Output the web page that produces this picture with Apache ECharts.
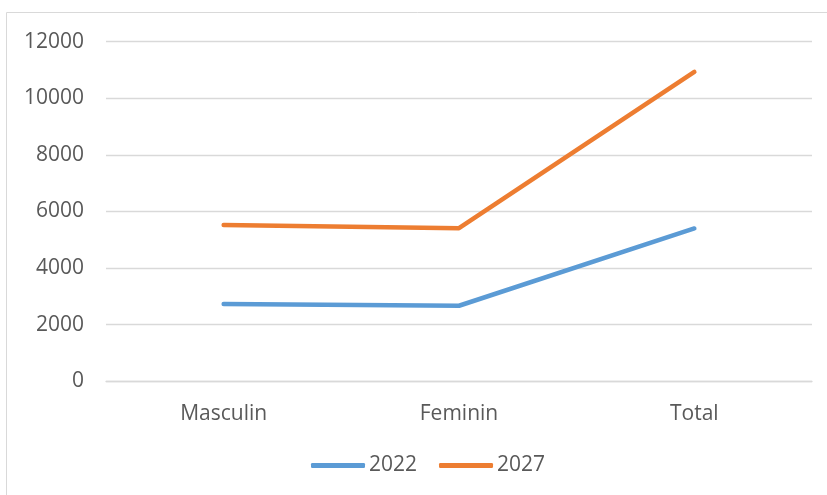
<!DOCTYPE html>
<html>
<head>
<meta charset="utf-8">
<script src="https://cdn.jsdelivr.net/npm/echarts@6/dist/echarts.min.js"></script>
<style>
  html, body { margin: 0; padding: 0; background: #fff; }
  #chart { width: 827px; height: 495px; }
</style>
</head>
<body>
<div id="chart"></div>
<script>
const categories = ['Masculin', 'Feminin', 'Total']
const values2022 = [2730, 2670, 5400]
const values2027 = [5520, 5410, 10930]
const seriesNames = ['2022', '2027']

const TEXT_COLOR = '#595959'
const GRID_COLOR = '#d9d9d9'
const FONT = '"Open Sans", sans-serif'

const chart = echarts.init(document.getElementById('chart'), null, { renderer: 'canvas' })

function lineSeries(name, data, color) {
  return {
    type: 'line',
    name: name,
    data: data,
    showSymbol: false,
    symbol: 'none',
    lineStyle: { color: color, width: 4.5, cap: 'round', join: 'round' },
    itemStyle: { color: color },
  }
}

chart.setOption({
  animation: false,
  textStyle: { fontFamily: FONT },
  graphic: [
    {
      type: 'rect',
      shape: { x: 6.5, y: 12.5, width: 840, height: 500 },
      style: { fill: 'none', stroke: GRID_COLOR, lineWidth: 1 },
      silent: true,
    },
  ],
  grid: { left: 106, right: 15, top: 41.7, bottom: 113.7 },
  legend: {
    left: 311,
    top: 455,
    icon: 'roundRect',
    itemWidth: 54,
    itemHeight: 5,
    itemGap: 22,
    padding: 0,
    textStyle: { color: TEXT_COLOR, fontSize: 21, fontFamily: FONT, padding: [0, 0, 0, -1] },
    data: seriesNames,
  },
  xAxis: {
    type: 'category',
    data: categories,
    boundaryGap: true,
    axisLine: { lineStyle: { color: GRID_COLOR, width: 1.3 } },
    axisTick: { show: false },
    axisLabel: { color: TEXT_COLOR, fontSize: 21, margin: 22, fontFamily: FONT },
  },
  yAxis: {
    type: 'value',
    min: 0,
    max: 12000,
    interval: 2000,
    axisLine: { show: false },
    axisTick: { show: false },
    axisLabel: {
      color: TEXT_COLOR,
      fontSize: 21,
      margin: 22,
      fontFamily: FONT,
      formatter: v => String(v),
    },
    splitLine: { lineStyle: { color: GRID_COLOR, width: 1.3 } },
  },
  series: [
    lineSeries(seriesNames[0], values2022, '#5B9BD5'),
    lineSeries(seriesNames[1], values2027, '#ED7D31'),
  ],
})
</script>
</body>
</html>
